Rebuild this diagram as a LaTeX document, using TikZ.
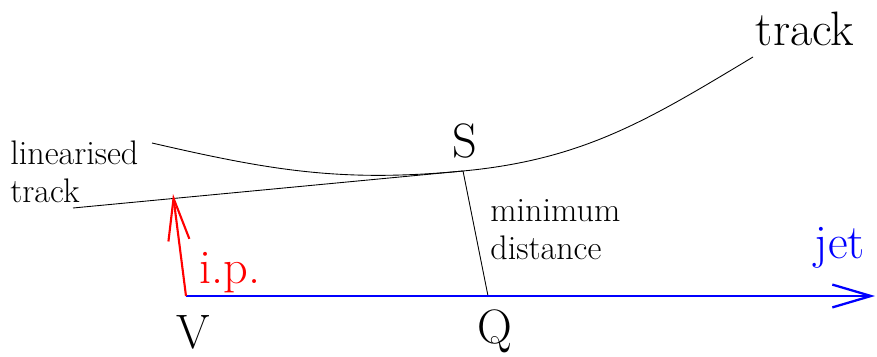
\documentclass[tikz,border=0pt]{standalone}
\usetikzlibrary{arrows.meta}

\begin{document}
\begin{tikzpicture}[
    big/.style={font=\fontsize{27.5}{30}\selectfont, inner sep=0pt},
    small/.style={font=\fontsize{19.4}{21.6}\selectfont, align=left, inner sep=0pt},
    thinline/.style={line width=0.5pt}
]
\useasboundingbox (0,0) rectangle (17.54,7.12);
\coordinate (V) at (3.72,1.20);
\coordinate (Q) at (9.76,1.20);
\coordinate (jetend) at (17.50,1.20);
\coordinate (S) at (9.26,3.70);
\coordinate (linstart) at (1.46,2.96);
\coordinate (ipend) at (3.46,3.24);
\coordinate (trackstart) at (3.04,4.26);
\coordinate (trackend) at (15.06,5.98);

\node[big, anchor=base] (tracklabel) at (16.10,6.22) {track};
\node[big, anchor=base] (Slabel) at (9.30,3.98) {S};
\node[big, anchor=base] (Vlabel) at (3.86,0.16) {V};
\node[big, anchor=base] (Qlabel) at (9.90,0.26) {Q};
\node[big, anchor=base, blue] (jetlabel) at (16.80,1.96) {jet};
\node[big, anchor=base, red] (iplabel) at (4.60,1.46) {i.p.};
\node[small, anchor=west] (mindist) at (9.80,2.52) {minimum\\distance};
\node[small, anchor=west] (linlabel) at (0.20,3.68) {linearised\\track};

\draw[thinline] (trackstart) to[out=-13, in=185.4] (S) to[out=5.4, in=211] (trackend);
\draw[thinline] (linstart) -- (S);
\draw[thinline] (S) -- (Q);
\draw[blue, line width=1.3pt, -{Straight Barb[length=22pt, width=13pt]}] (V) -- (jetend);
\draw[red, line width=1.2pt, -{Straight Barb[length=24pt, width=12pt]}] (V) -- (ipend);
\end{tikzpicture}
\end{document}
